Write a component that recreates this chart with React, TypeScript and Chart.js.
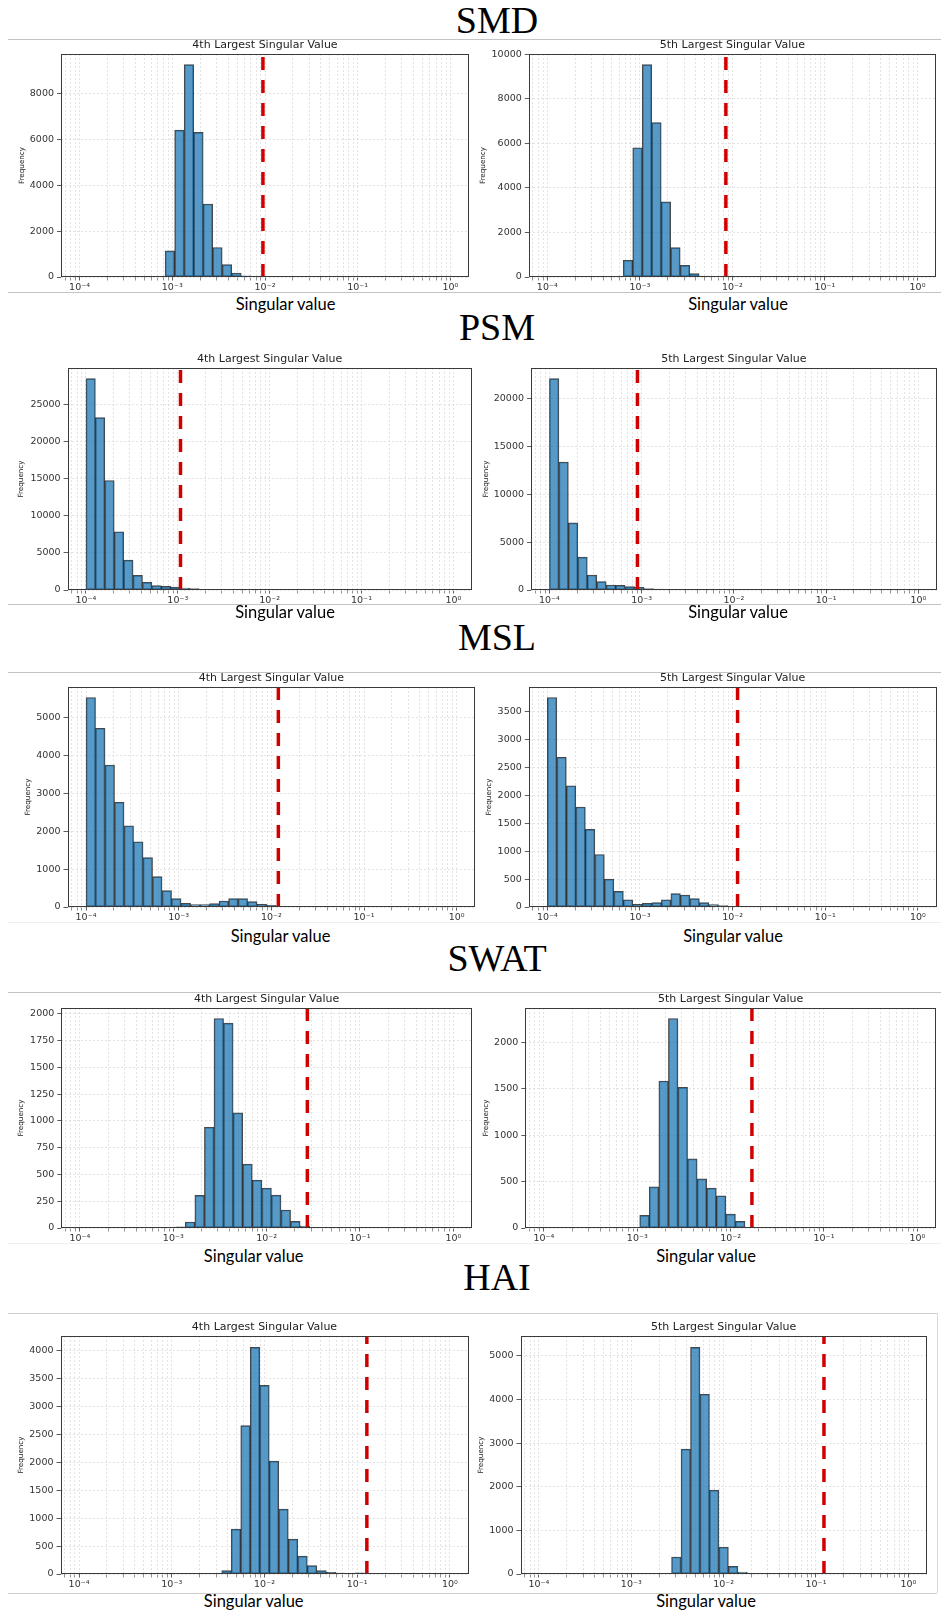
import React, { useEffect, useRef } from "react";
import { Chart, registerables } from "chart.js";

Chart.register(...registerables);

// ---------------- histogram bins (np.logspace(-4, 0, 40) -> 39 bins) ----------------
const BIN_LOG_START = -4;
const BIN_LOG_END = 0;
const BIN_COUNT = 39;

// x axis range (log10 units) and labels
const X_LOG_MIN = -4.2;
const X_LOG_MAX = 0.2;
const SECTION_TITLES = ["SMD", "PSM", "MSL", "SWAT", "HAI"];
const PANEL_TITLES = ["4th Largest Singular Value", "5th Largest Singular Value"];
const X_TITLE = "Singular value";
const Y_TITLE = "Frequency";

// ---------------- data: counts per bin, starting at a bin index ----------------
const SMD_4TH_FIRST_BIN = 8;
const SMD_4TH = [20, 1140, 6420, 9280, 6320, 3190, 1290, 540, 175, 55, 15, 5];
const SMD_5TH_FIRST_BIN = 8;
const SMD_5TH = [750, 5800, 9530, 6930, 3370, 1320, 525, 150, 45, 25];

const PSM_4TH_FIRST_BIN = 0;
const PSM_4TH = [28450, 23200, 14740, 7840, 4030, 1970, 1030, 580, 490, 400, 270, 180, 100, 80, 60];
const PSM_5TH_FIRST_BIN = 0;
const PSM_5TH = [22120, 13390, 7030, 3440, 1570, 870, 520, 490, 350, 280, 140, 90, 70, 60];

const MSL_4TH_FIRST_BIN = 0;
const MSL_4TH = [5520, 4710, 3740, 2760, 2140, 1720, 1300, 800, 430, 220, 97, 62, 62, 88, 158, 220, 220, 141, 70, 44, 18, 9];
const MSL_5TH_FIRST_BIN = 0;
const MSL_5TH = [3750, 2680, 2170, 1790, 1390, 940, 500, 280, 130, 48, 66, 78, 130, 240, 215, 150, 78, 42, 24, 10];

const SWAT_4TH_FIRST_BIN = 10;
const SWAT_4TH = [10, 56, 304, 941, 1957, 1913, 1075, 596, 447, 373, 307, 168, 62, 19];
const SWAT_5TH_FIRST_BIN = 9;
const SWAT_5TH = [8, 136, 444, 1584, 2258, 1516, 745, 530, 430, 348, 150, 72, 11];

const HAI_4TH_FIRST_BIN = 15;
const HAI_4TH = [60, 804, 2655, 4054, 3375, 2018, 1161, 625, 321, 149, 60, 30, 18, 12, 20, 8];
const HAI_5TH_FIRST_BIN = 13;
const HAI_5TH = [15, 389, 2863, 5198, 4122, 1924, 618, 176, 46, 15];

// dashed threshold lines [4th, 5th]
const SMD_THRESHOLDS = [0.0095, 0.0085];
const PSM_THRESHOLDS = [0.00107, 0.0009];
const MSL_THRESHOLDS = [0.0119, 0.0113];
const SWAT_THRESHOLDS = [0.0273, 0.0169];
const HAI_THRESHOLDS = [0.127, 0.122];

// y tick steps [4th, 5th]
const SMD_Y_STEPS = [2000, 2000];
const PSM_Y_STEPS = [5000, 5000];
const MSL_Y_STEPS = [1000, 500];
const SWAT_Y_STEPS = [250, 500];
const HAI_Y_STEPS = [500, 1000];

const PANELS = [
  { first: SMD_4TH_FIRST_BIN, counts: SMD_4TH, threshold: SMD_THRESHOLDS[0], step: SMD_Y_STEPS[0], title: PANEL_TITLES[0] },
  { first: SMD_5TH_FIRST_BIN, counts: SMD_5TH, threshold: SMD_THRESHOLDS[1], step: SMD_Y_STEPS[1], title: PANEL_TITLES[1] },
  { first: PSM_4TH_FIRST_BIN, counts: PSM_4TH, threshold: PSM_THRESHOLDS[0], step: PSM_Y_STEPS[0], title: PANEL_TITLES[0] },
  { first: PSM_5TH_FIRST_BIN, counts: PSM_5TH, threshold: PSM_THRESHOLDS[1], step: PSM_Y_STEPS[1], title: PANEL_TITLES[1] },
  { first: MSL_4TH_FIRST_BIN, counts: MSL_4TH, threshold: MSL_THRESHOLDS[0], step: MSL_Y_STEPS[0], title: PANEL_TITLES[0] },
  { first: MSL_5TH_FIRST_BIN, counts: MSL_5TH, threshold: MSL_THRESHOLDS[1], step: MSL_Y_STEPS[1], title: PANEL_TITLES[1] },
  { first: SWAT_4TH_FIRST_BIN, counts: SWAT_4TH, threshold: SWAT_THRESHOLDS[0], step: SWAT_Y_STEPS[0], title: PANEL_TITLES[0] },
  { first: SWAT_5TH_FIRST_BIN, counts: SWAT_5TH, threshold: SWAT_THRESHOLDS[1], step: SWAT_Y_STEPS[1], title: PANEL_TITLES[1] },
  { first: HAI_4TH_FIRST_BIN, counts: HAI_4TH, threshold: HAI_THRESHOLDS[0], step: HAI_Y_STEPS[0], title: PANEL_TITLES[0] },
  { first: HAI_5TH_FIRST_BIN, counts: HAI_5TH, threshold: HAI_THRESHOLDS[1], step: HAI_Y_STEPS[1], title: PANEL_TITLES[1] },
];

// ---------------- layout (page pixels) ----------------
// plot area boxes: left, top, right, bottom, and x-centre of the "Frequency" label
const PLOT_BOXES = [
  { l: 61, t: 54, r: 469, b: 277, fx: 22 },
  { l: 528.8, t: 54, r: 936, b: 277, fx: 483.3 },
  { l: 67.6, t: 368, r: 471.7, b: 590, fx: 21.7 },
  { l: 531, t: 368, r: 936.8, b: 590, fx: 486 },
  { l: 67.5, t: 687, r: 475.2, b: 907, fx: 28.3 },
  { l: 528.8, t: 687, r: 936.5, b: 907, fx: 489.3 },
  { l: 61.3, t: 1008, r: 472, b: 1228, fx: 21.7 },
  { l: 525.3, t: 1008, r: 936, b: 1228, fx: 486 },
  { l: 60.5, t: 1336, r: 468.5, b: 1574, fx: 21.7 },
  { l: 520.5, t: 1336, r: 926.8, b: 1574, fx: 481.7 },
];
// "Singular value" label: centre x, cap top y
const XLABEL_POS = [
  { x: 285.5, y: 299 }, { x: 738, y: 299 },
  { x: 285, y: 607 }, { x: 738, y: 607 },
  { x: 280.5, y: 931 }, { x: 733, y: 931 },
  { x: 253.7, y: 1251 }, { x: 706, y: 1251 },
  { x: 253.7, y: 1596 }, { x: 706, y: 1596 },
];
const SECTION_BASELINES = [33, 340, 650, 971, 1290];
const SECTION_CENTER_X = 497;
const H_LINES = [
  { y: 39, x1: 8, x2: 941, c: "#c4c4c4" },
  { y: 292, x1: 8, x2: 941, c: "#c4c4c4" },
  { y: 604, x1: 8, x2: 941, c: "#c4c4c4" },
  { y: 672, x1: 8, x2: 941, c: "#c4c4c4" },
  { y: 922, x1: 8, x2: 941, c: "#eeeeee" },
  { y: 992, x1: 8, x2: 941, c: "#c4c4c4" },
  { y: 1243, x1: 8, x2: 941, c: "#eeeeee" },
  { y: 1313, x1: 8, x2: 937, c: "#cfcfcf" },
  { y: 1593, x1: 8, x2: 937, c: "#cfcfcf" },
];

const FONT = "'DejaVu Sans', sans-serif";
const SUP: Record<string, string> = { "-": "\u207B", "0": "\u2070", "1": "\u00B9", "2": "\u00B2", "3": "\u00B3", "4": "\u2074", "5": "\u2075" };
const GRID_COLOR = "#dcdcdc";

function logTicks(min: number, max: number) {
  const out: any[] = [];
  for (let e = -6; e <= 1; e++) {
    for (let m = 1; m <= 9; m++) {
      const v = m * Math.pow(10, e);
      if (v >= min * 0.9999 && v <= max * 1.0001) out.push({ value: v, major: m === 1 });
    }
  }
  return out;
}

function linearTicks(max: number, step: number) {
  const out: any[] = [];
  for (let k = 0; k * step <= max + 1e-9; k++) out.push({ value: k * step });
  return out;
}

function tickLabel(v: number) {
  const e = Math.round(Math.log10(v));
  if (Math.abs(v - Math.pow(10, e)) / Math.pow(10, e) > 1e-6) return "";
  return "10" + String(e).split("").map((c) => SUP[c] || c).join("");
}

const thresholdPlugin = {
  id: "threshold",
  afterDatasetsDraw(chart: any, _args: any, opts: any) {
    const { ctx, chartArea: a, scales } = chart;
    const x = scales.x.getPixelForValue(opts.value);
    ctx.save();
    ctx.beginPath();
    ctx.rect(a.left, a.top, a.right - a.left, a.bottom - a.top);
    ctx.clip();
    ctx.strokeStyle = "#d10000";
    ctx.lineWidth = 3.5;
    ctx.setLineDash([13, 10]);
    ctx.beginPath();
    ctx.moveTo(x, a.bottom);
    ctx.lineTo(x, a.top);
    ctx.stroke();
    ctx.restore();
  },
};

const framePlugin = {
  id: "frame",
  afterDraw(chart: any) {
    const { ctx, chartArea: a } = chart;
    ctx.save();
    ctx.strokeStyle = "#3a3a3a";
    ctx.lineWidth = 1;
    const l = Math.round(a.left) + 0.5, t = Math.round(a.top) + 0.5;
    const r = Math.round(a.right) - 0.5, b = Math.round(a.bottom) - 0.5;
    ctx.strokeRect(l, t, r - l, b - t);
    ctx.restore();
  },
};

function Panel({ index }: { index: number }) {
  const ref = useRef<HTMLCanvasElement | null>(null);
  const p = PANELS[index];
  const box = PLOT_BOXES[index];
  const TITLE_FS = 11;
  const TITLE_LH = TITLE_FS * 1.2;
  const YT_FS = 7.2;
  const canvasLeft = Math.round(box.fx - (YT_FS * 1.2) / 2);
  const canvasTop = Math.round(box.t - 8.5 - TITLE_LH / 2);
  const titleBox = box.t - canvasTop;
  const yAxisW = box.l - canvasLeft;
  const canvasW = Math.ceil(box.r + 4 - canvasLeft);
  const canvasH = Math.ceil(box.b - canvasTop + 16);
  const rightPad = canvasW - (box.r - canvasLeft);
  const xAxisH = canvasH - (box.b - canvasTop);

  useEffect(() => {
    const canvas = ref.current;
    if (!canvas) return;
    const binW = (BIN_LOG_END - BIN_LOG_START) / BIN_COUNT;
    const data = p.counts.map((c: number, i: number) => ({
      x: Math.pow(10, BIN_LOG_START + (p.first + i + 0.5) * binW),
      y: c,
    }));
    const yMax = Math.max(...p.counts) * 1.05;
    const chart = new Chart(canvas, {
      type: "bar",
      data: {
        datasets: [
          {
            data,
            backgroundColor: "rgba(31,119,180,0.75)",
            borderColor: "rgba(0,0,0,0.72)",
            borderWidth: 1,
            borderSkipped: false,
            barPercentage: 1,
            categoryPercentage: 1,
            barThickness: "flex",
          } as any,
        ],
      },
      options: {
        responsive: false,
        animation: false,
        events: [],
        layout: { padding: { left: 0, top: 0, right: rightPad, bottom: 0 } },
        plugins: {
          legend: { display: false },
          tooltip: { enabled: false },
          title: {
            display: true,
            text: p.title,
            fullSize: false,
            color: "#222",
            font: { family: FONT, size: TITLE_FS, weight: "normal", lineHeight: 1.2 },
            padding: { top: 0, bottom: Math.max(0, titleBox - TITLE_LH) },
          },
          threshold: { value: p.threshold },
        } as any,
        scales: {
          x: {
            type: "logarithmic",
            min: Math.pow(10, X_LOG_MIN),
            max: Math.pow(10, X_LOG_MAX),
            offset: false,
            afterBuildTicks: (scale: any) => {
              scale.ticks = logTicks(scale.min, scale.max);
            },
            afterFit: (scale: any) => {
              scale.height = xAxisH;
            },
            ticks: {
              autoSkip: false,
              maxRotation: 0,
              minRotation: 0,
              padding: 1.5,
              color: "#333",
              font: { family: FONT, size: 9.5 },
              callback: (v: any) => tickLabel(Number(v)),
            },
            grid: {
              offset: false,
              color: GRID_COLOR,
              lineWidth: 0.8,
              tickLength: 3.5,
              tickColor: (ctx: any) => (ctx.tick && ctx.tick.major ? "#333" : "#777"),
            },
            border: { display: false, dash: [2, 2] },
          },
          y: {
            type: "linear",
            min: 0,
            max: yMax,
            afterBuildTicks: (scale: any) => {
              scale.ticks = linearTicks(scale.max, p.step);
            },
            afterFit: (scale: any) => {
              scale.width = yAxisW;
            },
            ticks: {
              padding: 3,
              color: "#333",
              font: { family: FONT, size: 9.5 },
              callback: (v: any) => String(Math.round(Number(v))),
            },
            grid: { color: GRID_COLOR, lineWidth: 0.8, tickLength: 4, tickColor: "#333" },
            border: { display: false, dash: [2, 2] },
            title: {
              display: true,
              text: Y_TITLE,
              color: "#222",
              font: { family: FONT, size: YT_FS, lineHeight: 1.2 },
              padding: 0,
            },
          },
        },
      } as any,
      plugins: [thresholdPlugin, framePlugin] as any,
    });
    return () => chart.destroy();
  }, []);

  return (
    <canvas
      ref={ref}
      width={canvasW}
      height={canvasH}
      style={{ position: "absolute", left: canvasLeft, top: canvasTop, width: canvasW, height: canvasH }}
    />
  );
}

export default function App() {
  const SEC_FS = 38;
  const XL_FS = 16.5;
  return (
    <div style={{ position: "absolute", left: 0, top: 0, width: 941, height: 1612, background: "#fff", overflow: "hidden" }}>
      {H_LINES.map((ln, i) => (
        <div key={"h" + i} style={{ position: "absolute", left: ln.x1, top: ln.y - 0.5, width: ln.x2 - ln.x1, height: 1, background: ln.c }} />
      ))}
      <div style={{ position: "absolute", left: 936.5, top: 1313, width: 1, height: 280, background: "#d8d8d8" }} />
      {SECTION_TITLES.map((t, i) => (
        <div
          key={"s" + i}
          style={{
            position: "absolute",
            left: SECTION_CENTER_X - 200,
            width: 400,
            top: SECTION_BASELINES[i] - 0.8375 * SEC_FS,
            textAlign: "center",
            fontFamily: "'Liberation Serif', 'Times New Roman', serif",
            fontSize: SEC_FS,
            lineHeight: 1,
            color: "#000",
            whiteSpace: "nowrap",
          }}
        >
          {t}
        </div>
      ))}
      {PANELS.map((_, i) => (
        <Panel key={"p" + i} index={i} />
      ))}
      {XLABEL_POS.map((pos, i) => (
        <div
          key={"x" + i}
          style={{
            position: "absolute",
            left: pos.x - 100,
            width: 200,
            top: pos.y - 0.17 * XL_FS,
            textAlign: "center",
            fontFamily: "Lato, 'Open Sans', sans-serif",
            fontSize: XL_FS,
            lineHeight: 1,
            color: "#000",
            whiteSpace: "nowrap",
          }}
        >
          {X_TITLE}
        </div>
      ))}
    </div>
  );
}
